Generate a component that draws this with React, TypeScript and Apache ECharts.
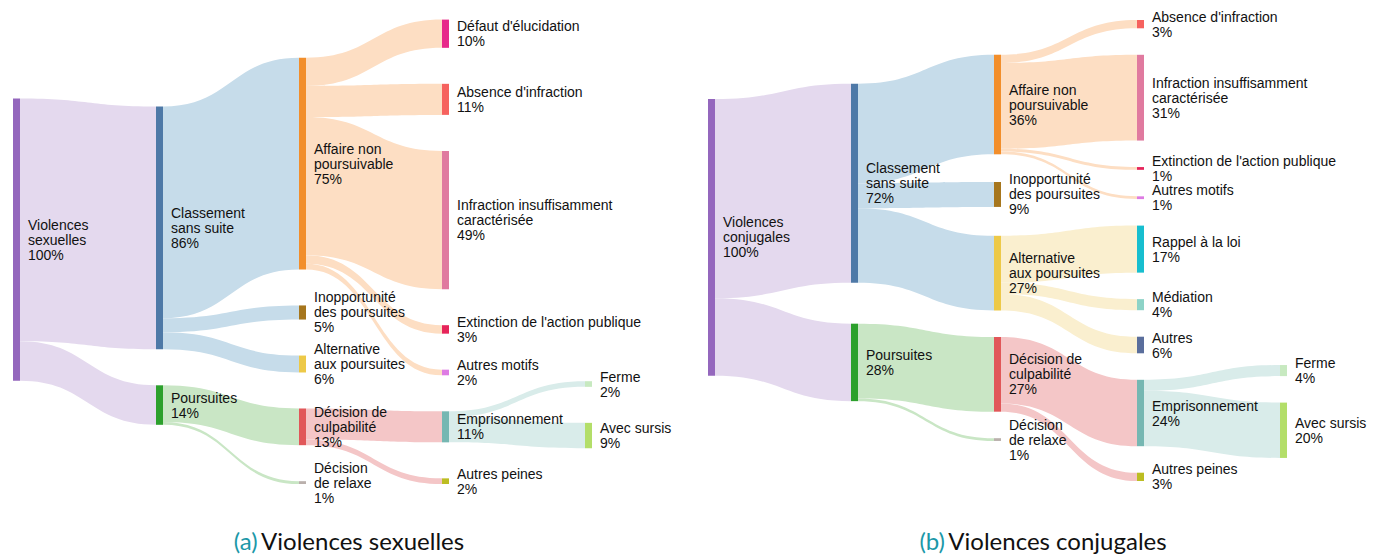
import React, { useEffect, useRef } from "react";
import * as echarts from "echarts";

// ---------- Data ----------
const nodesA = [
  "Violences sexuelles",
  "Classement sans suite",
  "Poursuites",
  "Affaire non poursuivable",
  "Inopportunité des poursuites",
  "Alternative aux poursuites",
  "Décision de culpabilité",
  "Décision de relaxe",
  "Défaut d'élucidation",
  "Absence d'infraction",
  "Infraction insuffisamment caractérisée",
  "Extinction de l'action publique",
  "Autres motifs",
  "Emprisonnement",
  "Autres peines",
  "Ferme",
  "Avec sursis",
];
const linksA: [string, string, number][] = [
  ["Violences sexuelles", "Classement sans suite", 86],
  ["Violences sexuelles", "Poursuites", 14],
  ["Classement sans suite", "Affaire non poursuivable", 75],
  ["Classement sans suite", "Inopportunité des poursuites", 5],
  ["Classement sans suite", "Alternative aux poursuites", 6],
  ["Poursuites", "Décision de culpabilité", 13],
  ["Poursuites", "Décision de relaxe", 1],
  ["Affaire non poursuivable", "Défaut d'élucidation", 10],
  ["Affaire non poursuivable", "Absence d'infraction", 11],
  ["Affaire non poursuivable", "Infraction insuffisamment caractérisée", 49],
  ["Affaire non poursuivable", "Extinction de l'action publique", 3],
  ["Affaire non poursuivable", "Autres motifs", 2],
  ["Décision de culpabilité", "Emprisonnement", 11],
  ["Décision de culpabilité", "Autres peines", 2],
  ["Emprisonnement", "Ferme", 2],
  ["Emprisonnement", "Avec sursis", 9],
];

const nodesB = [
  "Violences conjugales",
  "Classement sans suite",
  "Poursuites",
  "Affaire non poursuivable",
  "Inopportunité des poursuites",
  "Alternative aux poursuites",
  "Décision de culpabilité",
  "Décision de relaxe",
  "Absence d'infraction",
  "Infraction insuffisamment caractérisée",
  "Extinction de l'action publique",
  "Autres motifs",
  "Rappel à la loi",
  "Médiation",
  "Autres",
  "Emprisonnement",
  "Autres peines",
  "Ferme",
  "Avec sursis",
];
const linksB: [string, string, number][] = [
  ["Violences conjugales", "Classement sans suite", 72],
  ["Violences conjugales", "Poursuites", 28],
  ["Classement sans suite", "Affaire non poursuivable", 36],
  ["Classement sans suite", "Inopportunité des poursuites", 9],
  ["Classement sans suite", "Alternative aux poursuites", 27],
  ["Poursuites", "Décision de culpabilité", 27],
  ["Poursuites", "Décision de relaxe", 1],
  ["Affaire non poursuivable", "Absence d'infraction", 3],
  ["Affaire non poursuivable", "Infraction insuffisamment caractérisée", 31],
  ["Affaire non poursuivable", "Extinction de l'action publique", 1],
  ["Affaire non poursuivable", "Autres motifs", 1],
  ["Alternative aux poursuites", "Rappel à la loi", 17],
  ["Alternative aux poursuites", "Médiation", 4],
  ["Alternative aux poursuites", "Autres", 6],
  ["Décision de culpabilité", "Emprisonnement", 24],
  ["Décision de culpabilité", "Autres peines", 3],
  ["Emprisonnement", "Ferme", 4],
  ["Emprisonnement", "Avec sursis", 20],
];

// Displayed (wrapped) labels
const displayLabels: Record<string, string> = {
  "Violences sexuelles": "Violences\nsexuelles",
  "Violences conjugales": "Violences\nconjugales",
  "Classement sans suite": "Classement\nsans suite",
  "Affaire non poursuivable": "Affaire non\npoursuivable",
  "Inopportunité des poursuites": "Inopportunité\ndes poursuites",
  "Alternative aux poursuites": "Alternative\naux poursuites",
  "Décision de culpabilité": "Décision de\nculpabilité",
  "Décision de relaxe": "Décision\nde relaxe",
  "Infraction insuffisamment caractérisée": "Infraction insuffisamment\ncaractérisée",
};

// Node colours
const nodeColors: Record<string, string> = {
  "Violences sexuelles": "#9467bd",
  "Violences conjugales": "#9467bd",
  "Classement sans suite": "#4e79a7",
  "Poursuites": "#2ca02c",
  "Affaire non poursuivable": "#f28e2b",
  "Inopportunité des poursuites": "#a6761d",
  "Alternative aux poursuites": "#edc948",
  "Décision de culpabilité": "#e15759",
  "Décision de relaxe": "#bab0ac",
  "Défaut d'élucidation": "#e7298a",
  "Absence d'infraction": "#f6625e",
  "Infraction insuffisamment caractérisée": "#e07a9f",
  "Extinction de l'action publique": "#e6245a",
  "Autres motifs": "#dd7be3",
  "Emprisonnement": "#76b7b2",
  "Autres peines": "#bcbd22",
  "Ferme": "#c7e9c0",
  "Avec sursis": "#b3de69",
  "Rappel à la loi": "#17becf",
  "Médiation": "#8dd3c7",
  "Autres": "#5a6e9c",
};

// Link colours (by source node)
const linkColors: Record<string, string> = {
  "Violences sexuelles": "#e4d9ee",
  "Violences conjugales": "#e4d9ee",
  "Classement sans suite": "#c6dcea",
  "Poursuites": "#c9e6c5",
  "Affaire non poursuivable": "#fddec3",
  "Alternative aux poursuites": "#faefcf",
  "Décision de culpabilité": "#f4c6c7",
  "Emprisonnement": "#d9ecea",
};

const captionA = "Violences sexuelles";
const captionB = "Violences conjugales";

// d3-sankey style vertical relaxation (order preserving); returns y0 / height per node.
// mode "center": node-centre relaxation (d3-sankey 0.7); mode "link": link-aligned relaxation (d3-sankey 0.12)
function computeLocalY(
  names: string[],
  rawLinks: [string, string, number][],
  H: number,
  kyGap: number,
  py: number,
  iterations: number,
  mode: "center" | "link"
): Record<string, number> {
  type N = { name: string; index: number; layer: number; value: number; y0: number; y1: number; sourceLinks: L[]; targetLinks: L[] };
  type L = { source: N; target: N; value: number; width: number; index: number };
  const nodes: N[] = names.map((name, index) => ({ name, index, layer: 0, value: 0, y0: 0, y1: 0, sourceLinks: [], targetLinks: [] }));
  const byName: Record<string, N> = {};
  nodes.forEach((n) => (byName[n.name] = n));
  rawLinks.forEach(([s, t, v], index) => {
    const l = { source: byName[s], target: byName[t], value: v, width: 0, index };
    l.source.sourceLinks.push(l);
    l.target.targetLinks.push(l);
  });
  nodes.forEach((n) => {
    const a = n.sourceLinks.reduce((p, l) => p + l.value, 0);
    const b = n.targetLinks.reduce((p, l) => p + l.value, 0);
    n.value = Math.max(a, b);
    n.sourceLinks.sort((p, q) => p.target.index - q.target.index);
    n.targetLinks.sort((p, q) => p.source.index - q.source.index);
  });
  let current = new Set(nodes.filter((n) => !n.targetLinks.length));
  let x = 0;
  while (current.size) {
    const next = new Set<N>();
    current.forEach((n) => {
      n.layer = x;
      n.sourceLinks.forEach((l) => next.add(l.target));
    });
    current = next;
    x++;
  }
  const maxLayer = Math.max(...nodes.map((n) => n.layer));
  const columns: N[][] = [];
  for (let i = 0; i <= maxLayer; i++) columns.push(nodes.filter((n) => n.layer === i));
  // same scale as ECharts uses internally (nodeGap = kyGap)
  const ky = Math.min(...columns.map((c) => (H - (c.length - 1) * kyGap) / c.reduce((p, n) => p + n.value, 0)));
  nodes.forEach((n) => n.sourceLinks.forEach((l) => (l.width = l.value * ky)));
  const center = (n: N) => (n.y0 + n.y1) / 2;

  if (mode === "center") {
    columns.forEach((c) =>
      c.forEach((n, i) => {
        n.y0 = i;
        n.y1 = i + n.value * ky;
      })
    );
    const resolveAll = () =>
      columns.forEach((c) => {
        let y = 0;
        let node = c[0];
        for (let i = 0; i < c.length; i++) {
          node = c[i];
          const dy = y - node.y0;
          if (dy > 0) { node.y0 += dy; node.y1 += dy; }
          y = node.y1 + py;
        }
        let dy = y - py - H;
        if (dy > 0) {
          node.y0 -= dy; node.y1 -= dy;
          y = node.y0;
          for (let i = c.length - 2; i >= 0; --i) {
            node = c[i];
            dy = node.y1 + py - y;
            if (dy > 0) { node.y0 -= dy; node.y1 -= dy; }
            y = node.y0;
          }
        }
      });
    resolveAll();
    let alpha = 1;
    for (let it = 0; it < iterations; it++) {
      alpha *= 0.99;
      for (let i = columns.length - 1; i >= 0; i--) {
        columns[i].forEach((n) => {
          if (!n.sourceLinks.length) return;
          const w = n.sourceLinks.reduce((p, l) => p + center(l.target) * l.value, 0) / n.sourceLinks.reduce((p, l) => p + l.value, 0);
          const dy = (w - center(n)) * alpha;
          n.y0 += dy; n.y1 += dy;
        });
      }
      resolveAll();
      columns.forEach((c) =>
        c.forEach((n) => {
          if (!n.targetLinks.length) return;
          const w = n.targetLinks.reduce((p, l) => p + center(l.source) * l.value, 0) / n.targetLinks.reduce((p, l) => p + l.value, 0);
          const dy = (w - center(n)) * alpha;
          n.y0 += dy; n.y1 += dy;
        })
      );
      resolveAll();
    }
  } else {
    columns.forEach((c) => {
      let y = 0;
      c.forEach((n) => {
        n.y0 = y;
        n.y1 = y + n.value * ky;
        y = n.y1 + py;
      });
      const extra = (H - y + py) / (c.length + 1);
      c.forEach((n, i) => {
        n.y0 += extra * (i + 1);
        n.y1 += extra * (i + 1);
      });
    });
    const targetTop = (source: N, target: N) => {
      let y = source.y0 - ((source.sourceLinks.length - 1) * py) / 2;
      for (const l of source.sourceLinks) {
        if (l.target === target) break;
        y += l.width + py;
      }
      for (const l of target.targetLinks) {
        if (l.source === source) break;
        y -= l.width;
      }
      return y;
    };
    const sourceTop = (source: N, target: N) => {
      let y = target.y0 - ((target.targetLinks.length - 1) * py) / 2;
      for (const l of target.targetLinks) {
        if (l.source === source) break;
        y += l.width + py;
      }
      for (const l of source.sourceLinks) {
        if (l.target === target) break;
        y -= l.width;
      }
      return y;
    };
    const topToBottom = (ns: N[], y: number, i: number, a: number) => {
      for (; i < ns.length; ++i) {
        const n = ns[i];
        const dy = (y - n.y0) * a;
        if (dy > 1e-6) { n.y0 += dy; n.y1 += dy; }
        y = n.y1 + py;
      }
    };
    const bottomToTop = (ns: N[], y: number, i: number, a: number) => {
      for (; i >= 0; --i) {
        const n = ns[i];
        const dy = (n.y1 - y) * a;
        if (dy > 1e-6) { n.y0 -= dy; n.y1 -= dy; }
        y = n.y0 - py;
      }
    };
    const resolve = (ns: N[], a: number) => {
      const i = ns.length >> 1;
      const subject = ns[i];
      bottomToTop(ns, subject.y0 - py, i - 1, a);
      topToBottom(ns, subject.y1 + py, i + 1, a);
      bottomToTop(ns, H, ns.length - 1, a);
      topToBottom(ns, 0, 0, a);
    };
    for (let it = 0; it < iterations; ++it) {
      const alpha = Math.pow(0.99, it);
      const beta = Math.max(1 - alpha, (it + 1) / iterations);
      for (let i = columns.length - 2; i >= 0; --i) {
        const col = columns[i];
        col.forEach((source) => {
          let y = 0, w = 0;
          source.sourceLinks.forEach((l) => {
            const v = l.value * (l.target.layer - source.layer);
            y += sourceTop(source, l.target) * v;
            w += v;
          });
          if (!(w > 0)) return;
          const dy = (y / w - source.y0) * alpha;
          source.y0 += dy; source.y1 += dy;
        });
        resolve(col, beta);
      }
      for (let i = 1; i < columns.length; ++i) {
        const col = columns[i];
        col.forEach((target) => {
          let y = 0, w = 0;
          target.targetLinks.forEach((l) => {
            const v = l.value * (target.layer - l.source.layer);
            y += targetTop(l.source, target) * v;
            w += v;
          });
          if (!(w > 0)) return;
          const dy = (y / w - target.y0) * alpha;
          target.y0 += dy; target.y1 += dy;
        });
        resolve(col, beta);
      }
    }
  }
  const out: Record<string, number> = {};
  nodes.forEach((n) => (out[n.name] = n.y0 / H));
  return out;
}

function buildSeries(
  nodes: string[],
  links: [string, string, number][],
  box: { left: number; top: number; width: number; height: number },
  kyGap: number,
  py: number,
  iterations: number,
  mode: "center" | "link"
) {
  const ly = computeLocalY(nodes, links, box.height, kyGap, py, iterations, mode);
  return {
    type: "sankey",
    ...box,
    nodeWidth: 7,
    nodeGap: kyGap,
    nodeAlign: "left",
    layoutIterations: 0,
    draggable: false,
    emphasis: { disabled: true },
    data: nodes.map((n) => ({
      name: n,
      localY: ly[n],
      itemStyle: { color: nodeColors[n], borderWidth: 0 },
    })),
    links: links.map(([s, t, v]) => ({
      source: s,
      target: t,
      value: v,
      lineStyle: { color: linkColors[s], opacity: 1, curveness: 0.5 },
    })),
    label: {
      show: true,
      position: "right",
      distance: 8,
      color: "#111",
      fontSize: 14,
      lineHeight: 15,
      fontFamily: "Liberation Sans, Arial, sans-serif",
      formatter: (p: any) => `${displayLabels[p.name] || p.name}\n${p.value}%`,
    },
  };
}

export default function App() {
  const ref = useRef<HTMLDivElement>(null);
  useEffect(() => {
    if (!ref.current) return;
    const chart = echarts.init(ref.current, undefined, { renderer: "svg" });
    const richCap = {
      a: { fill: "#1b98a8", fontSize: 24, fontFamily: "Lato" },
      b: { fill: "#111", fontSize: 24, fontFamily: "Lato" },
    };
    chart.setOption({
      animation: false,
      backgroundColor: "#fff",
      tooltip: { show: false },
      series: [
        buildSeries(nodesA, linksA, { left: 13, top: 13, width: 579, height: 471 }, 37.1, 36, 50, "center"),
        buildSeries(nodesB, linksB, { left: 708, top: 20, width: 579, height: 461 }, 26.5, 26.5, 32, "link"),
      ],
      graphic: [
        {
          type: "text",
          x: 349,
          y: 540,
          style: {
            text: `{a|(a)} {b|${captionA}}`,
            align: "center",
            verticalAlign: "middle",
            rich: richCap,
          },
        },
        {
          type: "text",
          x: 1043,
          y: 540,
          style: {
            text: `{a|(b)} {b|${captionB}}`,
            align: "center",
            verticalAlign: "middle",
            rich: richCap,
          },
        },
      ],
    });
    return () => chart.dispose();
  }, []);
  return (
    <div
      ref={ref}
      style={{ position: "absolute", left: 0, top: 0, width: 1389, height: 554 }}
    />
  );
}
